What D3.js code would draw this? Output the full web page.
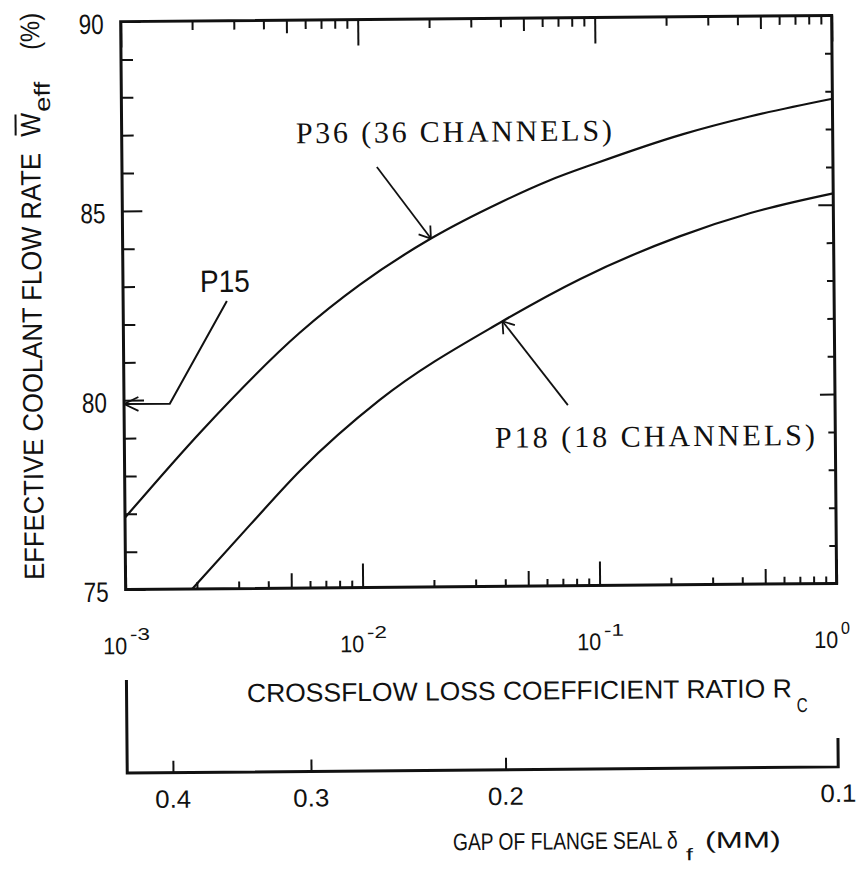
<!DOCTYPE html>
<html>
<head>
<meta charset="utf-8">
<script src="https://cdn.jsdelivr.net/npm/d3@7"></script>
<style>
  body { margin: 0; background: #fff; }
  svg { display: block; }
</style>
</head>
<body>
<svg width="860" height="873"></svg>
<script>
// curves: crossflow loss coefficient ratio Rc -> effective flow rate (%)
var rcP36  = [0.001, 0.00214, 0.00556, 0.01, 0.02, 0.0398, 0.0631, 0.1, 0.234, 0.447, 1];
var effP36 = [76.9, 79.2, 81.75, 83.0, 84.2, 85.15, 85.7, 86.15, 86.9, 87.35, 87.8];

var rcP18  = [0.00191, 0.00339, 0.0055, 0.012, 0.0398, 0.0851, 0.224, 0.447, 1];
var effP18 = [75.0, 76.7, 78.1, 79.95, 82.0, 83.1, 84.2, 84.8, 85.3];

var decades    = [0.001, 0.01, 0.1, 1];
var decadeExp  = ["-3", "-2", "-1", "0"];
var yLabels    = [75, 80, 85, 90];
var gapTicks   = [0.4, 0.3, 0.2, 0.1];
var gapLabels  = ["0.4", "0.3", "0.2", "0.1"];

// annotations, in data units (Rc, %)
var p15Path  = [[0.001, 79.9], [0.00156, 79.9], [0.00274, 82.6]];
var p15At    = [0.00211, 82.84];
var p36Arrow = [[0.0119, 86.1], [0.02, 84.2]];
var p36At    = [0.00543, 86.75];
var p18Arrow = [[0.0746, 79.77], [0.0398, 82.0]];
var p18At    = [0.0366, 78.66];

var ink = "#111";
var sans = "'Liberation Sans', Arial, sans-serif";
var serif = "'Liberation Serif', 'Times New Roman', serif";

var svg = d3.select("svg"),
    margin = {top: 18.5, left: 124},
    width = 711,
    height = 568;

var x = d3.scaleLog().domain([1e-3, 1]).range([0, width]),
    y = d3.scaleLinear().domain([75, 90]).range([height, 0]),
    gap = d3.scaleLog().domain([0.44, 0.1]).range([0, width]);

// the scanned page is tilted by about half a degree
var g = svg.append("g")
    .attr("transform", "rotate(-0.5,480,400) translate(" + margin.left + "," + margin.top + ")");

function mant(d) {
  var m = Math.round(d / Math.pow(10, Math.floor(Math.log10(d) + 1e-9)));
  return m === 10 ? 1 : m;
}

function ticks(axis, vals, len, tx, ty) {
  var a = g.append("g")
      .attr("transform", "translate(" + tx + "," + ty + ")")
      .call(axis.tickValues(vals).tickSize(-len).tickFormat(""));
  a.select(".domain").remove();
  a.selectAll("line").attr("stroke", ink).attr("stroke-width", 2);
}

// plotter lettering is narrow: squeeze the glyphs to a given width
function text(str, px, py, size, len, anchor, rot) {
  var t = g.append("text")
      .attr("font-family", sans)
      .attr("font-size", size)
      .attr("fill", ink)
      .text(str);
  var w = t.node().getComputedTextLength();
  var sx = len / w;
  var shift = anchor === "end" ? -w : anchor === "middle" ? -w / 2 : 0;
  t.attr("x", shift);
  t.attr("transform", "translate(" + px + "," + py + ")" + (rot ? " rotate(-90)" : "") + " scale(" + sx + ",1)");
  return t;
}

function spaced(str, px, py, size, len, font) {
  return g.append("text")
      .attr("x", px).attr("y", py)
      .attr("font-family", font || sans)
      .attr("font-size", size)
      .attr("fill", ink)
      .attr("textLength", len)
      .attr("lengthAdjust", "spacing")
      .text(str);
}

// ---- ticks on the frame
var xt = x.ticks();
var xDec = xt.filter(function(d) { return mant(d) === 1; }),
    xFive = xt.filter(function(d) { return mant(d) === 5; }),
    xRest = xt.filter(function(d) { var m = mant(d); return m !== 1 && m !== 5; });

ticks(d3.axisBottom(x), xDec, 24, 0, height);
ticks(d3.axisBottom(x), xFive, 15, 0, height);
ticks(d3.axisBottom(x), xRest, 7, 0, height);
ticks(d3.axisTop(x), xDec, 26, 0, 0);
ticks(d3.axisTop(x), xFive, 13, 0, 0);
ticks(d3.axisTop(x), xRest, 9, 0, 0);

var yt = d3.range(75, 91);
var yMaj = yt.filter(function(d) { return d % 5 === 0; }),
    yMin = yt.filter(function(d) { return d % 5 !== 0; });
ticks(d3.axisLeft(y), yMaj, 20, 0, 0);
ticks(d3.axisLeft(y), yMin, 12, 0, 0);
ticks(d3.axisRight(y), yMaj, 15, width, 0);
ticks(d3.axisRight(y), yMin, 7, width, 0);

g.append("rect")
    .attr("width", width).attr("height", height)
    .attr("fill", "none").attr("stroke", ink).attr("stroke-width", 3);

// ---- curves
g.append("clipPath").attr("id", "plot")
  .append("rect").attr("width", width).attr("height", height);

var line = d3.line()
    .x(function(d) { return x(d[0]); })
    .y(function(d) { return y(d[1]); })
    .curve(d3.curveMonotoneX);

[[rcP36, effP36], [rcP18, effP18]].forEach(function(s) {
  g.append("path")
      .datum(d3.zip(s[0], s[1]))
      .attr("clip-path", "url(#plot)")
      .attr("fill", "none").attr("stroke", ink).attr("stroke-width", 2.2)
      .attr("d", line);
});

// ---- annotations
var plain = d3.line().x(function(d) { return x(d[0]); }).y(function(d) { return y(d[1]); });

function head(tip, from, len, ang) {
  var a = Math.atan2(y(from[1]) - y(tip[1]), x(from[0]) - x(tip[0]));
  var tx = x(tip[0]), ty = y(tip[1]);
  var p = "";
  [a - ang, a + ang].forEach(function(b) {
    p += "M" + tx + "," + ty + "L" + (tx + len * Math.cos(b)) + "," + (ty + len * Math.sin(b));
  });
  g.append("path").attr("d", p).attr("fill", "none").attr("stroke", ink).attr("stroke-width", 1.8);
}

g.append("path").attr("d", plain(p15Path))
    .attr("fill", "none").attr("stroke", ink).attr("stroke-width", 2);
head(p15Path[0], p15Path[1], 16, 0.45);
text("P15", x(p15At[0]), y(p15At[1]), 31, 50);

[p36Arrow, p18Arrow].forEach(function(a) {
  g.append("path").attr("d", plain(a))
      .attr("fill", "none").attr("stroke", ink).attr("stroke-width", 1.8);
  head(a[1], a[0], 13, 0.6);
});
spaced("P36 (36 CHANNELS)", x(p36At[0]), y(p36At[1]), 30, 316, serif);
spaced("P18 (18 CHANNELS)", x(p18At[0]), y(p18At[1]), 30, 320, serif);

// ---- y tick labels
yLabels.forEach(function(v) {
  text(String(v), -17, y(v) + 12, 28, 25, "end");
});

// ---- Rc decade labels
decades.forEach(function(d, i) {
  text("10", x(d) - 23, 632.5, 24, 24);
  text(decadeExp[i], x(d) + 4, 618.5, 17, decadeExp[i].length > 1 ? 20 : 9);
});

text("CROSSFLOW LOSS COEFFICIENT RATIO R", 120.4, 681.5, 26, 545);
text("C", 670, 696.3, 20, 11);

// ---- flange seal gap axis
var gAxis = g.append("g").attr("transform", "translate(0,751.5)")
    .call(d3.axisBottom(gap).tickValues(gapTicks.slice(0, 3)).tickSize(-12).tickFormat(""));
gAxis.select(".domain").remove();
gAxis.selectAll("line").attr("stroke", ink).attr("stroke-width", 2);
gAxis.append("path")
    .attr("d", "M" + gap.range()[0] + ",-93V0H" + gap.range()[1] + "V-29")
    .attr("fill", "none").attr("stroke", ink).attr("stroke-width", 3);

gapTicks.forEach(function(d, i) {
  text(gapLabels[i], gap(d), 786.5, 25, 36, "middle");
});

text("GAP OF FLANGE SEAL \u03b4", 325, 831.5, 24, 225);
text("f", 558, 843.5, 17, 7);
text("(MM)", 577, 831.5, 23, 76);

// ---- y axis title (reads bottom to top)
text("EFFECTIVE COOLANT FLOW RATE", -81.5, 557.5, 28, 427, null, true);
text("W", -81.5, 114.5, 28, 24, null, true);
g.append("line")
    .attr("x1", -106).attr("x2", -106).attr("y1", 92).attr("y2", 113)
    .attr("stroke", ink).attr("stroke-width", 2);
text("eff", -71.5, 89.5, 22, 30, null, true);
text("(%)", -81.5, 27.5, 27, 37, null, true);
</script>
</body>
</html>
